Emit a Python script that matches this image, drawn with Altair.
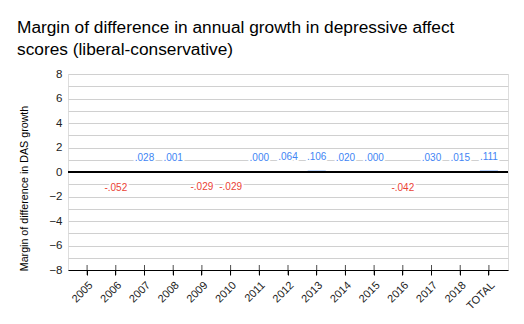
import altair as alt
import pandas as pd

categories = ["2005", "2006", "2007", "2008", "2009", "2010", "2011", "2012",
              "2013", "2014", "2015", "2016", "2017", "2018", "TOTAL"]
values = [None, -0.052, 0.028, 0.001, -0.029, -0.029, 0.000, 0.064,
          0.106, 0.020, 0.000, -0.042, 0.030, 0.015, 0.111]
labels = ["", "-.052", ".028", ".001", "-.029", "-.029", ".000", ".064",
          ".106", ".020", ".000", "-.042", ".030", ".015", ".111"]
y_ticks = list(range(-8, 9))

df = pd.DataFrame({"cat": categories, "value": values, "label": labels})

FONT = "Liberation Sans"
BLUE = "#4285F4"
RED = "#EA4335"

x_scale = alt.Scale(paddingInner=0.37, paddingOuter=0.35)
x_axis = alt.Axis(title=None, labelAngle=-45, labelFont=FONT, labelFontSize=11,
                  labelColor="#222", domainColor="#000", tickColor="#000",
                  tickSize=5, labelPadding=4, grid=False)
x_enc = alt.X("cat:N", sort=categories, scale=x_scale, axis=x_axis)

y_scale = alt.Scale(domain=[-8, 8], nice=False, zero=False)
y_axis = alt.Axis(title="Margin of difference in DAS growth", values=y_ticks,
                  labelExpr="datum.value % 2 == 0 ? datum.label : ''",
                  labelOverlap=False, grid=True,
                  titleFont=FONT, titleFontSize=10.7, titleFontWeight="normal",
                  titleColor="#000", titlePadding=19, titleY=114,
                  labelFont=FONT, labelFontSize=11.5, labelColor="#222",
                  domain=False, ticks=False, labelPadding=6,
                  gridColor="#d0d0d0", gridWidth=1, gridOpacity=1)
y_enc = alt.Y("value:Q", scale=y_scale, axis=y_axis)

base = alt.Chart(df)

bars = base.mark_bar(color=BLUE).transform_filter("isValid(datum.value)").encode(
    x=x_enc, y=y_enc, y2=alt.datum(0))

zero = base.mark_rule(color="#000", strokeWidth=1).encode(
    y=alt.YDatum(0, scale=y_scale, axis=y_axis))

xticks = base.mark_tick(orient="vertical", size=10, thickness=1, color="#000").encode(
    x=x_enc, y=alt.YDatum(-8, scale=y_scale, axis=y_axis))


def text_layers(cond, dy, color):
    halo = base.transform_filter(cond).mark_text(
        font=FONT, fontSize=10, dy=dy, fill="white", stroke="white", strokeWidth=4
    ).encode(x=x_enc, y=y_enc, text="label:N")
    txt = base.transform_filter(cond).mark_text(
        font=FONT, fontSize=10, dy=dy, color=color
    ).encode(x=x_enc, y=y_enc, text="label:N")
    return [halo, txt]


pos = text_layers("isValid(datum.value) && datum.value >= 0", -14, BLUE)
neg = text_layers("isValid(datum.value) && datum.value < 0", 15, RED)

chart = alt.layer(bars, zero, xticks, *pos, *neg).properties(
    width=440, height=196,
    title=alt.TitleParams(
        ["Margin of difference in annual growth in depressive affect",
         "scores (liberal-conservative)"],
        anchor="start", frame="group", dx=-51, offset=10, font=FONT, fontSize=17.3,
        fontWeight="normal", color="#000", lineHeight=22),
    padding={"left": 68, "top": 74, "right": 16, "bottom": 54},
    autosize="none",
).configure_view(stroke=None).configure(background="white")

chart.save("out.html", embed_options={"renderer": "svg", "actions": False})
